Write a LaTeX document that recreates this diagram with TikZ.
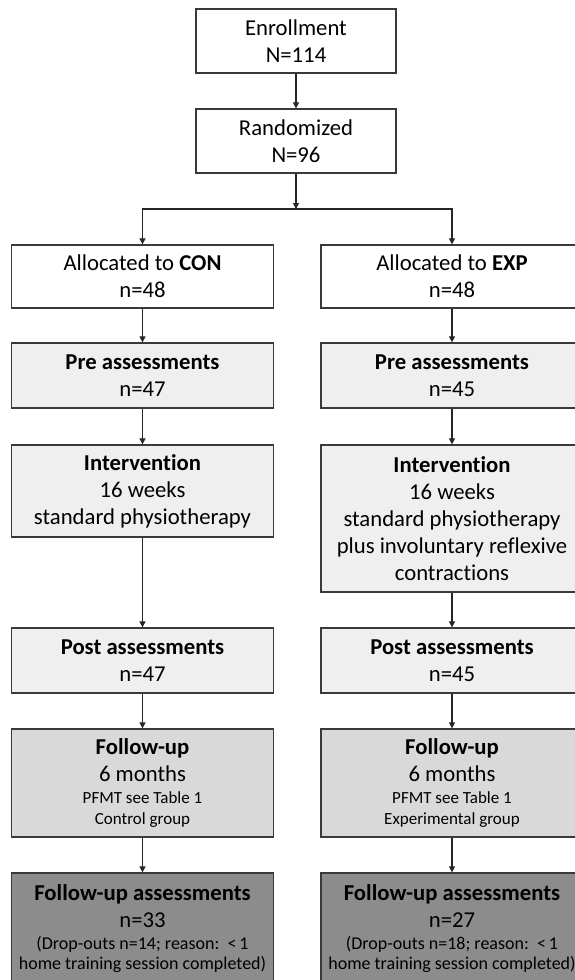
\documentclass[tikz,border=0pt]{standalone}
\usepackage{fontspec}
\setmainfont{Carlito}[Ligatures=NoCommon]
\usetikzlibrary{arrows.meta}
\definecolor{edge}{HTML}{3A3A3A}
\definecolor{light}{HTML}{EFEFEF}
\definecolor{mid}{HTML}{D9D9D9}
\definecolor{dark}{HTML}{8C8C8C}
\begin{document}
\begin{tikzpicture}[x=1pt,y=1pt,
  box/.style={draw=edge, line width=1.3pt, align=center, inner sep=0pt,
    font=\fontsize{22.7}{27}\selectfont, text=black},
  wbox/.style={box, fill=white, minimum width=200, minimum height=64},
  gbox/.style={box, fill=white, minimum width=262, minimum height=63},
  lbox/.style={box, fill=light, minimum width=262},
  mbox/.style={box, fill=mid, minimum width=262, minimum height=108},
  dbox/.style={box, fill=dark, minimum width=262, minimum height=112},
  arr/.style={-{Triangle[width=6pt,length=6pt]}, line width=1.2pt, draw=black!85},
]
\clip (0,0) rectangle (575,-980);
\fill[white] (0,0) rectangle (575,-980);

\node[wbox] (enr) at (296,-41) {Enrollment\\N=114};
\node[wbox] (ran) at (296,-141) {Randomized\\N=96};
\coordinate (split) at (296,-209);

\node[gbox] (con) at (142.5,-276.5) {Allocated to \textbf{CON}\\n=48};
\node[gbox] (exp) at (452,-276.5) {Allocated to \textbf{EXP}\\n=48};

\node[lbox, minimum height=65] (prec) at (142.5,-375.5) {\textbf{Pre assessments}\\n=47};
\node[lbox, minimum height=65] (pree) at (452,-375.5) {\textbf{Pre assessments}\\n=45};

\node[lbox, minimum height=92] (intc) at (142.5,-491) {\textbf{Intervention}\\16 weeks\\standard physiotherapy};
\node[lbox, minimum height=147] (inte) at (452,-518.5) {\textbf{Intervention}\\16 weeks\\standard physiotherapy\\plus involuntary reflexive\\contractions};

\node[lbox, minimum height=65] (postc) at (142.5,-660.5) {\textbf{Post assessments}\\n=47};
\node[lbox, minimum height=65] (poste) at (452,-660.5) {\textbf{Post assessments}\\n=45};

\node[mbox] (fuc) at (142.5,-783) {\textbf{Follow-up}\\6 months\\[-5pt]{\fontsize{17}{21}\selectfont PFMT see Table 1}\\[-6pt]{\fontsize{17}{21}\selectfont Control group}};
\node[mbox] (fue) at (452,-783) {\textbf{Follow-up}\\6 months\\[-5pt]{\fontsize{17}{21}\selectfont PFMT see Table 1}\\[-6pt]{\fontsize{17}{21}\selectfont Experimental group}};

\node[dbox] (fac) at (142.5,-929) {\textbf{Follow-up assessments}\\n=33\\[-5pt]{\fontsize{18}{21}\selectfont (Drop-outs n=14; reason:\ \ {<}\,1}\\[-7pt]{\fontsize{18}{21}\selectfont home training session completed)}};
\node[dbox] (fae) at (452,-929) {\textbf{Follow-up assessments}\\n=27\\[-5pt]{\fontsize{18}{21}\selectfont (Drop-outs n=18; reason:\ \ {<}\,1}\\[-7pt]{\fontsize{18}{21}\selectfont home training session completed)}};

\draw[arr] (enr) -- (ran);
\draw[arr] (ran) -- (split);
\draw[arr] (split) -| (con.north);
\draw[arr] (split) -| (exp.north);
\draw[arr] (con) -- (prec);
\draw[arr] (exp) -- (pree);
\draw[arr] (prec) -- (intc);
\draw[arr] (pree) -- (inte);
\draw[arr] (intc) -- (postc);
\draw[arr] (inte) -- (poste);
\draw[arr] (postc) -- (fuc);
\draw[arr] (poste) -- (fue);
\draw[arr] (fuc) -- (fac);
\draw[arr] (fue) -- (fae);
\end{tikzpicture}
\end{document}
